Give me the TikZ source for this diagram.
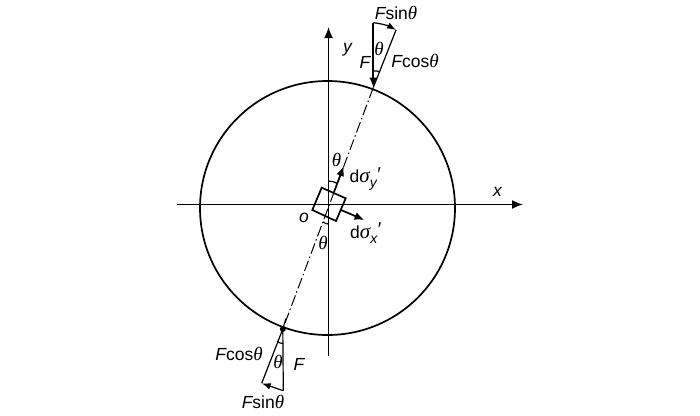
\documentclass[tikz,border=0pt]{standalone}
\usepackage{fontspec}
\setmainfont{Liberation Sans}
\newfontfamily\thetafont{Liberation Serif}
\usetikzlibrary{arrows.meta}
\newcommand{\thet}{{\fontsize{19}{19}\selectfont\thetafont\itshape θ}}
\newcommand{\sigm}{{\fontsize{21}{21}\selectfont\thetafont\itshape σ}}
\newcommand{\primemark}{\raisebox{1.5pt}{\fontsize{21}{21}\selectfont\thetafont\itshape ′}}
\newcommand{\subs}[1]{\raisebox{-5pt}{\fontsize{14}{14}\selectfont\itshape #1}}
\tikzset{
  ln/.style={line width=1.7pt,black},
  thin ln/.style={line width=1.2pt,black},
  ax/.style={ln,-{Latex[length=11pt,width=9pt]}},
  arr/.style={ln,-{Latex[length=10pt,width=8pt]}},
  sarr/.style={thin ln,-{Latex[length=9pt,width=6.5pt]}},
  lbl/.style={inner sep=0pt,font=\fontsize{17.5}{19}\selectfont},
  dashdot/.style={line width=1pt,dash pattern=on 11pt off 3pt on 1.5pt off 3pt}
}
\begin{document}
\begin{tikzpicture}[x=1pt,y=-1pt]
\useasboundingbox (0,0) rectangle (700,415);
\fill[white] (0,0) rectangle (700,415);
% axes
\coordinate (xs) at (177,204.5); \coordinate (xe) at (523,204.5);
\coordinate (ys) at (328.5,356); \coordinate (ye) at (328.5,27);
\coordinate (c) at (327.5,208);
\draw[ln] (c) ellipse [x radius=127.5,y radius=127];
\draw[ax] (xs) -- (xe);
\draw[ax] (ys) -- (ye);
% line of action
\coordinate (pt) at (373.3,87.5);
\coordinate (pb) at (282.8,329);
\draw[dashdot] (pt) -- (pb);
\draw[dashdot] (pb) -- (286,318);
% element
\coordinate (s1) at (321.7,187.7); \coordinate (s2) at (345.7,198.3);
\coordinate (s3) at (336,221); \coordinate (s4) at (312.3,210);
\draw[ln,fill=none] (s1) -- (s2) -- (s3) -- (s4) -- cycle;
% stress arrows
\coordinate (ya) at (334,192); \coordinate (yb) at (343.8,166);
\coordinate (xa) at (341,210); \coordinate (xb) at (364.5,220);
\draw[arr] (ya) -- (yb);
\draw[arr] (xa) -- (xb);
% angle arcs
\draw[thin ln] (328.5,181) .. controls (331.5,181) and (335,182) .. (337.5,183.5);
\draw[thin ln] (323,222) .. controls (325,223.5) and (327,224) .. (328.5,224);
% top triangle
\coordinate (ta) at (373.3,22.7); \coordinate (tb) at (396,30);
\draw[arr] (ta) -- (pt);
\draw[thin ln] (tb) -- (pt);
\draw[sarr] (ta) .. controls (381,23.5) and (389,26) .. (tb);
\draw[thin ln] (373.3,71) .. controls (375.5,70.5) and (378,71) .. (380,72);
% bottom triangle
\coordinate (ba) at (283.3,390.7); \coordinate (bb) at (261.7,383.3);
\draw[thin ln] (pb) -- (ba);
\draw[thin ln] (pb) -- (bb);
\draw[sarr] (ba) -- (bb);
\draw[thin ln] (277,341) .. controls (279,343) and (281,343.5) .. (283,343.5);
\fill (pb) circle (3);
% labels
\node[lbl] (ly) at (347.5,50) {\itshape y};
\node[lbl] (lx) at (497.5,192) {\itshape x};
\node[lbl] (lo) at (304,218) {\itshape o};
\node[lbl] (l1) at (396,13) {{\itshape F}sin\thet};
\node[lbl] (l2) at (365,62) {\itshape F};
\node[lbl] (l3) at (379,49) {\thet};
\node[lbl] (l4) at (415,61) {{\itshape F}cos\thet};
\node[lbl] (l5) at (336.5,160) {\thet};
\node[lbl] (l6) at (323,243) {\thet};
\node[lbl,anchor=west] (l7) at (349.5,179) {d\sigm\subs{y}\kern-1pt\primemark};
\node[lbl,anchor=west] (l8) at (350,233) {d\sigm\subs{x}\kern-1pt\primemark};
\node[lbl] (l9) at (239,354) {{\itshape F}cos\thet};
\node[lbl] (l10) at (278,362) {\thet};
\node[lbl] (l11) at (299,364) {\itshape F};
\node[lbl] (l12) at (263,402) {{\itshape F}sin\thet};
\end{tikzpicture}
\end{document}
